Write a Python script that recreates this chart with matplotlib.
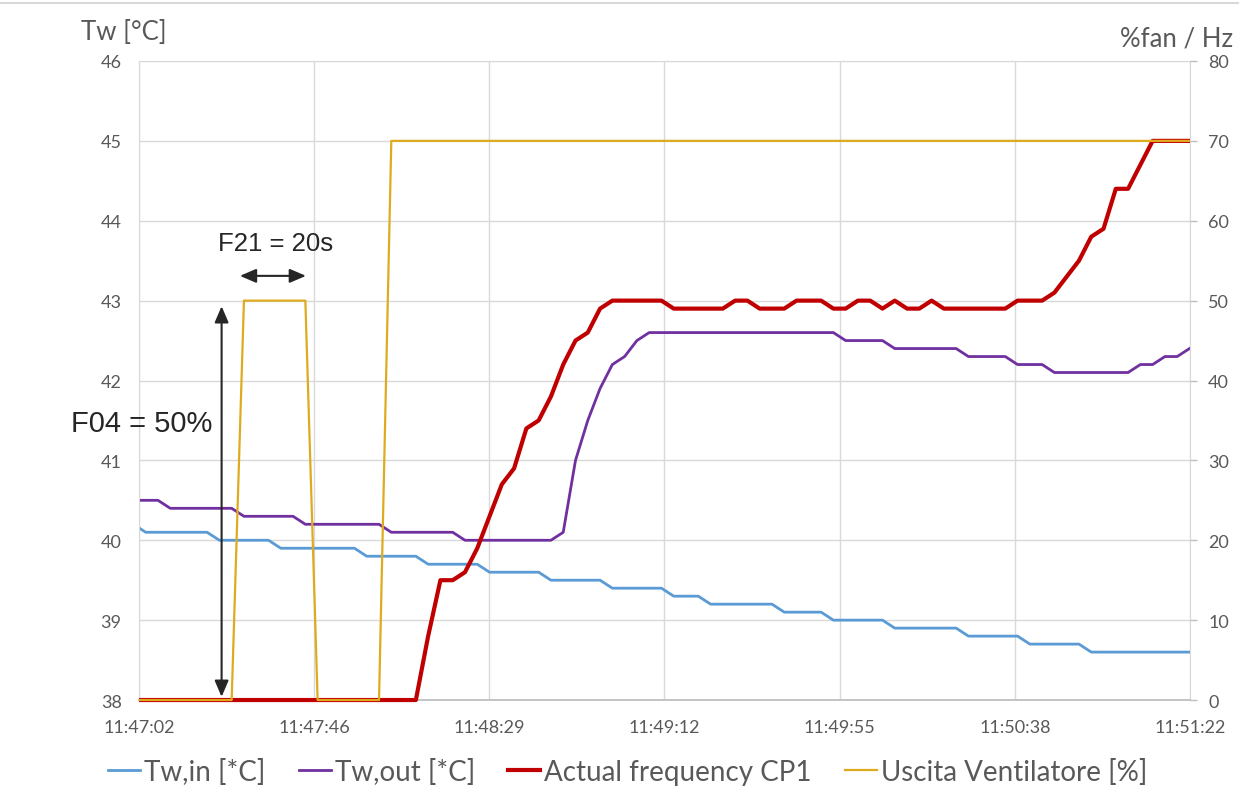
import numpy as np
import matplotlib
matplotlib.use("Agg")
from matplotlib import pyplot as plt
from matplotlib.lines import Line2D
from matplotlib.transforms import Bbox, TransformedBbox

plt.rcParams['font.family'] = ['Lato', 'DejaVu Sans']

# logger samples (about every 3 s), starting just before 11:47:02
time_labels = ["11:47:02", "11:47:46", "11:48:29", "11:49:12",
               "11:49:55", "11:50:38", "11:51:22"]

tw_in = [40.2, 40.1, 40.1, 40.1, 40.1, 40.1, 40.1, 40.0, 40.0, 40.0,
         40.0, 40.0, 39.9, 39.9, 39.9, 39.9, 39.9, 39.9, 39.9, 39.8,
         39.8, 39.8, 39.8, 39.8, 39.7, 39.7, 39.7, 39.7, 39.7, 39.6,
         39.6, 39.6, 39.6, 39.6, 39.5, 39.5, 39.5, 39.5, 39.5, 39.4,
         39.4, 39.4, 39.4, 39.4, 39.3, 39.3, 39.3, 39.2, 39.2, 39.2,
         39.2, 39.2, 39.2, 39.1, 39.1, 39.1, 39.1, 39.0, 39.0, 39.0,
         39.0, 39.0, 38.9, 38.9, 38.9, 38.9, 38.9, 38.9, 38.8, 38.8,
         38.8, 38.8, 38.8, 38.7, 38.7, 38.7, 38.7, 38.7, 38.6, 38.6,
         38.6, 38.6, 38.6, 38.6, 38.6, 38.6, 38.6]

tw_out = [40.5, 40.5, 40.5, 40.4, 40.4, 40.4, 40.4, 40.4, 40.4, 40.3,
          40.3, 40.3, 40.3, 40.3, 40.2, 40.2, 40.2, 40.2, 40.2, 40.2,
          40.2, 40.1, 40.1, 40.1, 40.1, 40.1, 40.1, 40.0, 40.0, 40.0,
          40.0, 40.0, 40.0, 40.0, 40.0, 40.1, 41.0, 41.5, 41.9, 42.2,
          42.3, 42.5, 42.6, 42.6, 42.6, 42.6, 42.6, 42.6, 42.6, 42.6,
          42.6, 42.6, 42.6, 42.6, 42.6, 42.6, 42.6, 42.6, 42.5, 42.5,
          42.5, 42.5, 42.4, 42.4, 42.4, 42.4, 42.4, 42.4, 42.3, 42.3,
          42.3, 42.3, 42.2, 42.2, 42.2, 42.1, 42.1, 42.1, 42.1, 42.1,
          42.1, 42.1, 42.2, 42.2, 42.3, 42.3, 42.4]

freq_cp1 = [0, 0, 0, 0, 0, 0, 0, 0, 0, 0,
            0, 0, 0, 0, 0, 0, 0, 0, 0, 0,
            0, 0, 0, 0, 8, 15, 15, 16, 19, 23,
            27, 29, 34, 35, 38, 42, 45, 46, 49, 50,
            50, 50, 50, 50, 49, 49, 49, 49, 49, 50,
            50, 49, 49, 49, 50, 50, 50, 49, 49, 50,
            50, 49, 50, 49, 49, 50, 49, 49, 49, 49,
            49, 49, 50, 50, 50, 51, 53, 55, 58, 59,
            64, 64, 67, 70, 70, 70, 70]

fan_out = [0, 0, 0, 0, 0, 0, 0, 0, 0, 50,
           50, 50, 50, 50, 50, 0, 0, 0, 0, 0,
           0, 70, 70, 70, 70, 70, 70, 70, 70, 70,
           70, 70, 70, 70, 70, 70, 70, 70, 70, 70,
           70, 70, 70, 70, 70, 70, 70, 70, 70, 70,
           70, 70, 70, 70, 70, 70, 70, 70, 70, 70,
           70, 70, 70, 70, 70, 70, 70, 70, 70, 70,
           70, 70, 70, 70, 70, 70, 70, 70, 70, 70,
           70, 70, 70, 70, 70, 70, 70]

sample = np.arange(len(tw_in))
x_start, x_end = 0.45, 86.04
grey_txt = '#595959'

fig, ax = plt.subplots(figsize=(12.53, 8.03), dpi=100)
fig.subplots_adjust(left=0.1109, right=0.9497, bottom=0.127, top=0.9228)
ax2 = ax.twinx()

l1, = ax.plot(sample, tw_in, color='#5B9BD5', lw=2.0, label='Tw,in [*C]')
l2, = ax.plot(sample, tw_out, color='#7030A0', lw=2.0, label='Tw,out [*C]')
l3, = ax2.plot(sample, freq_cp1, color='#C00000', lw=3.0,
               label='Actual frequency CP1')
l4, = ax2.plot(sample, fan_out, color='#DFAB1E', lw=1.6,
               label='Uscita Ventilatore [%]')

# clip only left/right so lines lying on 0 keep their full width
clip = TransformedBbox(Bbox([[0, -0.02], [1, 1.02]]), ax.transAxes)
for line in (l1, l2, l3, l4):
    line.set_clip_box(clip)

ax.set_xlim(x_start, x_end)
ax.set_ylim(38, 46)
ax2.set_ylim(0, 80)
ax.set_xticks(np.linspace(x_start, x_end, len(time_labels)))
ax.set_xticklabels(time_labels)
ax.set_yticks(range(38, 47))
ax2.set_yticks(range(0, 81, 10))

ax.grid(True, color='#D9D9D9', lw=1.0)
ax.set_axisbelow(True)
for side in ['top', 'left', 'right']:
    ax.spines[side].set_color('#D9D9D9')
ax.spines['bottom'].set_color('#BFBFBF')
ax.spines['bottom'].set_linewidth(1.3)
for side in ax2.spines:
    ax2.spines[side].set_visible(False)

ax.tick_params(axis='y', length=0, pad=12.5, labelsize=13, labelcolor=grey_txt)
ax.tick_params(axis='x', length=0, pad=14, labelsize=13, labelcolor=grey_txt)
ax2.tick_params(axis='y', length=5, width=1, color='#BFBFBF', pad=8,
                labelsize=13, labelcolor=grey_txt)

fig.text(81 / 1253, 1 - 33 / 803, 'Tw [°C]', fontsize=18.5, color=grey_txt,
         ha='left', va='center')
fig.text(1233 / 1253, 1 - 39 / 803, '%fan / Hz', fontsize=18.5, color=grey_txt,
         ha='right', va='center')

# F04 / F21 markers on the first fan pulse
arrow = dict(arrowstyle='<|-|>,head_length=0.7,head_width=0.3', color='#262626',
             lw=1.5, mutation_scale=14, shrinkA=0, shrinkB=0)
ax2.annotate('', xy=(7.18, 0.4), xytext=(7.18, 49.3), arrowprops=arrow)
ax2.annotate('', xy=(8.67, 53.1), xytext=(14.05, 53.1), arrowprops=arrow)
ax2.text(6.88, 57.2, 'F21 = 20s', family=['Liberation Sans', 'DejaVu Sans'],
         fontsize=18.5, color='#262626', va='center')
ax2.text(-5.1, 34.7, 'F04 = 50%', family=['Liberation Sans', 'DejaVu Sans'],
         fontsize=21, color='#262626', va='center')

fig.legend([l1, l2, l3, l4], [l.get_label() for l in [l1, l2, l3, l4]],
           loc='center', bbox_to_anchor=(0.501, 0.0386), ncol=4,
           frameon=False, fontsize=20, handlelength=1.15, handletextpad=0.15,
           columnspacing=1.2, labelcolor=grey_txt)

fig.add_artist(Line2D([0, 1238 / 1253], [1 - 4 / 803, 1 - 4 / 803],
                      transform=fig.transFigure, color='#D9D9D9', lw=1.5))

fig.savefig("out.png", dpi=100)
